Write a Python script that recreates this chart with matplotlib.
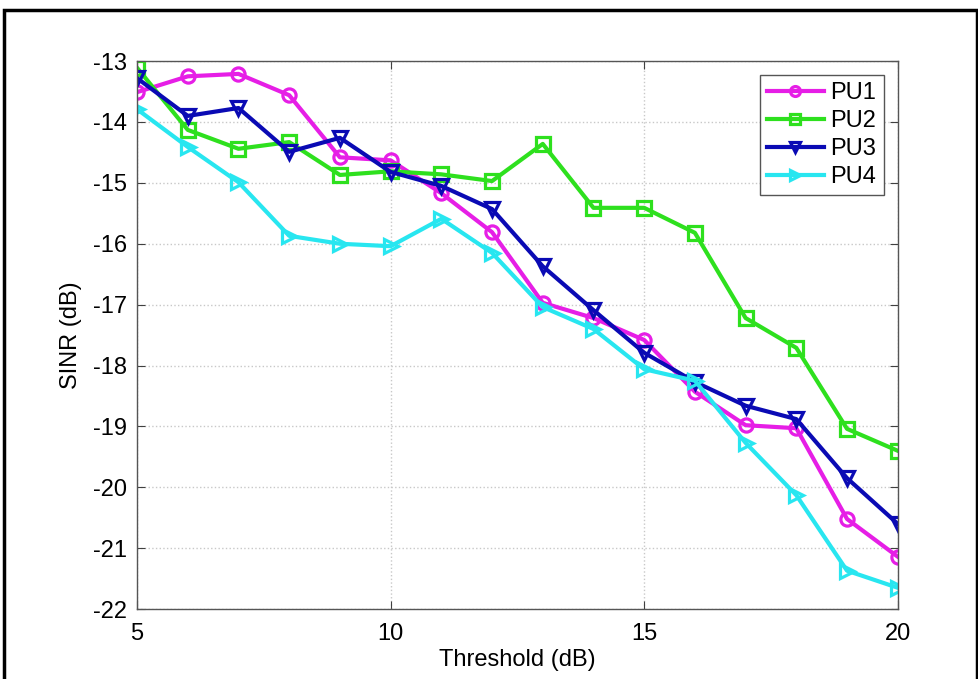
import matplotlib.pyplot as plt
from matplotlib.patches import Rectangle

plt.rcParams['font.family'] = ['Liberation Sans', 'DejaVu Sans']
plt.rcParams['axes.unicode_minus'] = False

# threshold values (dB)
threshold = [5, 6, 7, 8, 9, 10, 11, 12, 13, 14, 15, 16, 17, 18, 19, 20]

# SINR per primary user (dB)
pu1 = [-13.51, -13.25, -13.21, -13.56, -14.58, -14.63, -15.17, -15.81,
       -16.97, -17.22, -17.58, -18.43, -18.98, -19.03, -20.52, -21.14]
pu2 = [-13.11, -14.13, -14.44, -14.33, -14.87, -14.81, -14.86, -14.97,
       -14.36, -15.41, -15.41, -15.82, -17.22, -17.71, -19.04, -19.40]
pu3 = [-13.28, -13.90, -13.77, -14.49, -14.26, -14.82, -15.05, -15.43,
       -16.37, -17.09, -17.79, -18.27, -18.66, -18.88, -19.85, -20.60]
pu4 = [-13.79, -14.41, -14.99, -15.87, -16.00, -16.04, -15.59, -16.15,
       -17.04, -17.40, -18.06, -18.25, -19.27, -20.13, -21.37, -21.65]

fig = plt.figure(figsize=(9.79, 6.79), dpi=100)
ax = fig.add_axes([0.140, 0.103, 0.777, 0.807])

# outer frame around the figure
fig.patches.append(Rectangle((0.004, -0.1), 0.994, 1.085, transform=fig.transFigure,
                             fill=False, edgecolor='black', linewidth=2.5))

style = dict(linewidth=3, markersize=9.5, markerfacecolor='none', markeredgewidth=2.3)
ax.plot(threshold, pu1, color='#e61ee6', marker='o', label='PU1', **style)
ax.plot(threshold, pu2, color='#2ee01e', marker='s', label='PU2', **style)
ax.plot(threshold, pu3, color='#0a0ab4', marker='v', label='PU3', **style)
ax.plot(threshold, pu4, color='#28e6f0', marker='>', label='PU4', **style)

ax.set_xlim(5, 20)
ax.set_ylim(-22, -13)
ax.set_xticks([5, 10, 15, 20])
ax.set_yticks(range(-22, -12))
ax.grid(True, linestyle=':', color='#c8c8c8', linewidth=1)
ax.tick_params(direction='in', top=True, right=True, labelsize=17, length=6, color='#404040')
ax.tick_params(axis='x', pad=10)
ax.tick_params(axis='y', pad=7)
for s in ax.spines.values():
    s.set_color('#555555')
    s.set_linewidth(1)

ax.set_xlabel('Threshold (dB)', fontsize=17, labelpad=3)
ax.set_ylabel('SINR (dB)', fontsize=17, labelpad=8)

leg = ax.legend(loc='upper right', fontsize=17, fancybox=False, framealpha=1,
                edgecolor='#555555', handlelength=2.4, borderpad=0.3, markerscale=0.75,
                labelspacing=0.25, handletextpad=0.3, borderaxespad=0.6)
leg.get_frame().set_linewidth(1)

fig.savefig('out.png', dpi=100)
